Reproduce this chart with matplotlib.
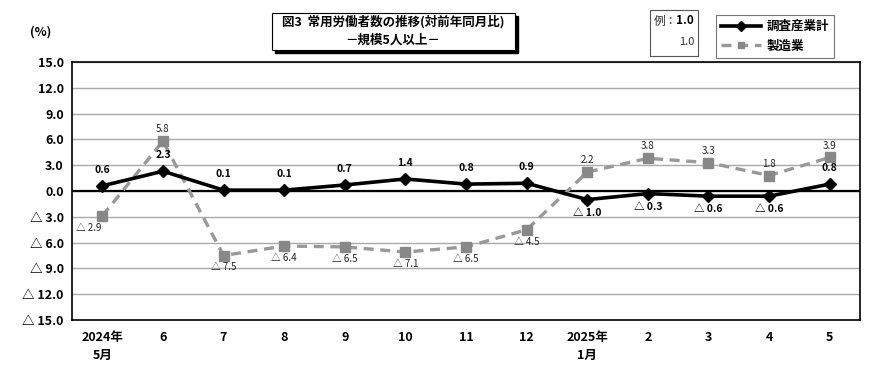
import matplotlib
matplotlib.use("Agg")
import matplotlib.pyplot as plt
from matplotlib.patches import Rectangle
from matplotlib.lines import Line2D

plt.rcParams['font.family'] = ['Noto Sans CJK JP', 'DejaVu Sans']

months = ["2024年\n5月", "6", "7", "8", "9", "10", "11", "12",
          "2025年\n1月", "2", "3", "4", "5"]
total = [0.6, 2.3, 0.1, 0.1, 0.7, 1.4, 0.8, 0.9, -1.0, -0.3, -0.6, -0.6, 0.8]
manuf = [-2.9, 5.8, -7.5, -6.4, -6.5, -7.1, -6.5, -4.5, 2.2, 3.8, 3.3, 1.8, 3.9]
yticks = [15, 12, 9, 6, 3, 0, -3, -6, -9, -12, -15]


def fmt(v):
    return "%.1f" % v if v >= 0 else "△ %.1f" % -v


fig = plt.figure(figsize=(8.9, 3.7), dpi=100)
ax = fig.add_axes([72/890, 1-320/370, 788/890, 258/370])

x = list(range(len(months)))
ax.plot(x, manuf, color="#999999", lw=2.4, ls=(0, (3, 2)), marker="s",
        ms=6.5, mfc="#888888", mec="#888888", zorder=3)
ax.plot(x, total, color="black", lw=2.6, marker="D", ms=6.5, zorder=4)

ax.set_xlim(-0.5, len(months)-0.5)
ax.set_ylim(-15, 15)
ax.set_yticks(yticks)
ax.set_yticklabels([fmt(v) if v != 0 else "0.0" for v in yticks],
                   fontsize=9, fontweight="bold")
ax.set_xticks(x)
ax.set_xticklabels(months, fontsize=9, fontweight="bold", linespacing=1.5,
                   va="top")
ax.tick_params(length=0, pad=6)
ax.tick_params(axis="x", pad=8)
ax.grid(axis="y", color="#aaaaaa", lw=1)
ax.set_axisbelow(True)
ax.axhline(0, color="black", lw=1.6, zorder=2)
for s in ax.spines.values():
    s.set_color("black")
    s.set_linewidth(1.2)

# data labels
for i, v in enumerate(total):
    if v >= 0:
        ax.annotate(fmt(v), (i, v), xytext=(0, 8), textcoords="offset points",
                    ha="center", va="bottom", fontsize=7.5, fontweight="bold")
    else:
        ax.annotate(fmt(v), (i, v), xytext=(0, -6), textcoords="offset points",
                    ha="center", va="top", fontsize=7.5, fontweight="bold")
for i, v in enumerate(manuf):
    if v >= 0:
        ax.annotate(fmt(v), (i, v), xytext=(0, 5), textcoords="offset points",
                    ha="center", va="bottom", fontsize=7, color="#222222")
    else:
        dx = -10 if i == 0 else 0
        ax.annotate(fmt(v), (i, v), xytext=(dx, -5), textcoords="offset points",
                    ha="center", va="top", fontsize=7, color="#222222")

# (%)
fig.text(30/890, 1-32/370, "(%)", fontsize=9, fontweight="bold", va="center")

# title box with shadow
fig.patches.append(Rectangle((275/890, 1-53/370), 243/890, 37/370,
                             transform=fig.transFigure, color="black",
                             zorder=1))
fig.patches.append(Rectangle((272/890, 1-50/370), 243/890, 37/370,
                             transform=fig.transFigure, fc="white",
                             ec="black", lw=0.8, zorder=2))
fig.text(393/890, 1-22/370, "図3  常用労働者数の推移(対前年同月比)",
         ha="center", va="center", fontsize=9, fontweight="bold", zorder=3)
fig.text(393/890, 1-40/370, "－規模5人以上－",
         ha="center", va="center", fontsize=9, fontweight="bold", zorder=3)

# example box
fig.patches.append(Rectangle((650/890, 1-56/370), 48/890, 46/370,
                             transform=fig.transFigure, fc="white",
                             ec="#555555", lw=0.8))
fig.text(677/890, 1-21/370, "例：", ha="right", va="center", fontsize=8.5,
         color="#333333")
fig.text(694/890, 1-21/370, "1.0", ha="right", va="center", fontsize=8.5,
         fontweight="bold")
fig.text(694/890, 1-42/370, "1.0", ha="right", va="center", fontsize=8,
         color="#333333")

# legend
handles = [Line2D([], [], color="black", lw=2.6, marker="D", ms=5),
           Line2D([], [], color="#999999", lw=2.4, ls=(0, (3, 2)), marker="s",
                  ms=5, mfc="#888888", mec="#888888")]
leg = fig.legend(handles, ["調査産業計", "製造業"], loc="upper left",
                 bbox_to_anchor=(710/890, 1-9/370), frameon=True,
                 fancybox=False, edgecolor="#555555", fontsize=9,
                 prop={"weight": "bold", "size": 9}, handlelength=3.2,
                 borderpad=0.4, labelspacing=0.5, handletextpad=0.4)
leg.get_frame().set_linewidth(0.8)

fig.savefig("out.png", dpi=100)
